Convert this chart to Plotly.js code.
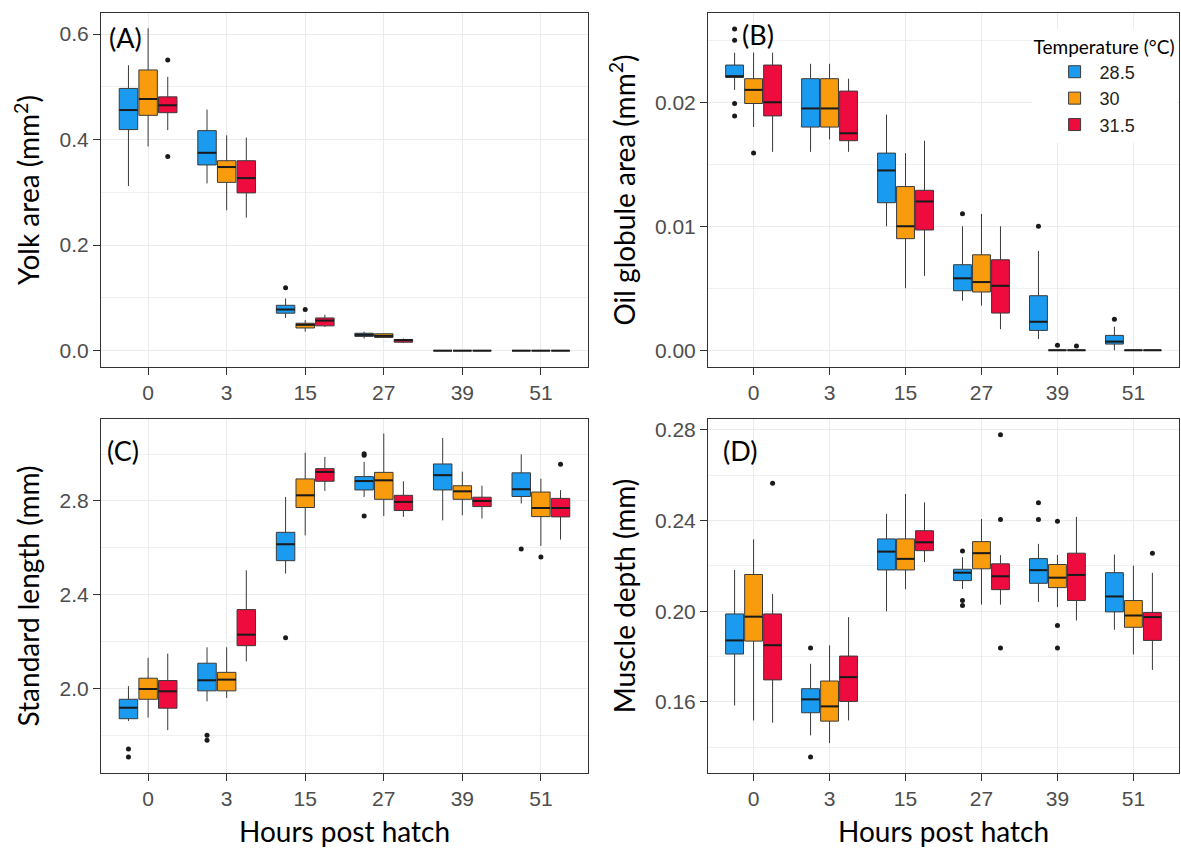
<!DOCTYPE html>
<html>
<head>
<meta charset="utf-8">
<script src="https://cdn.plot.ly/plotly-3.0.1.min.js"></script>
<style>html,body{margin:0;padding:0;background:#fff;}#chart{width:1181px;height:848px;}</style>
</head>
<body>
<div id="chart"></div>
<script>
// ---------- DATA ----------
const hours = ['0', '3', '15', '27', '39', '51'];
const temps = ['28.5', '30', '31.5'];

// (A) Yolk area (mm2) — rows: 28.5, 30, 31.5 °C ; columns: hours
const yolkLo  = [[0.312, 0.317, 0.062, 0.023, 0, 0], [0.387, 0.266, 0.036, 0.024, 0, 0], [0.418, 0.252, 0.045, 0.015, 0, 0]];
const yolkQ1  = [[0.419, 0.352, 0.071, 0.027, 0, 0], [0.446, 0.319, 0.043, 0.025, 0, 0], [0.451, 0.299, 0.047, 0.016, 0, 0]];
const yolkMed = [[0.456, 0.375, 0.078, 0.030, 0, 0], [0.477, 0.348, 0.049, 0.028, 0, 0], [0.465, 0.327, 0.057, 0.020, 0, 0]];
const yolkQ3  = [[0.497, 0.417, 0.086, 0.033, 0, 0], [0.532, 0.360, 0.052, 0.032, 0, 0], [0.481, 0.360, 0.062, 0.021, 0, 0]];
const yolkHi  = [[0.541, 0.457, 0.099, 0.036, 0, 0], [0.611, 0.408, 0.058, 0.033, 0, 0], [0.519, 0.404, 0.068, 0.023, 0, 0]];
const yolkOutHour = [0, 0, 2, 2];
const yolkOutTemp = [2, 2, 0, 1];
const yolkOutVal  = [0.551, 0.368, 0.119, 0.078];

// (B) Oil globule area (mm2)
const oilLo  = [[0.0210, 0.0160, 0.0100, 0.0040, 0.0009, 0], [0.0180, 0.0170, 0.0050, 0.0036, 0, 0], [0.0160, 0.0160, 0.0060, 0.0017, 0, 0]];
const oilQ1  = [[0.0220, 0.0180, 0.0119, 0.0048, 0.0016, 0.0005], [0.0199, 0.0180, 0.0090, 0.0047, 0, 0], [0.0189, 0.0169, 0.0097, 0.0030, 0, 0]];
const oilMed = [[0.0221, 0.0195, 0.0145, 0.0058, 0.0023, 0.0007], [0.0210, 0.0195, 0.0100, 0.0055, 0, 0], [0.0200, 0.0175, 0.0120, 0.0052, 0, 0]];
const oilQ3  = [[0.0230, 0.0219, 0.0159, 0.0069, 0.0044, 0.0012], [0.0219, 0.0219, 0.0132, 0.0077, 0, 0], [0.0230, 0.0209, 0.0129, 0.0073, 0, 0]];
const oilHi  = [[0.0240, 0.0231, 0.0190, 0.0100, 0.0080, 0.0019], [0.0240, 0.0231, 0.0159, 0.0110, 0, 0], [0.0240, 0.0219, 0.0169, 0.0100, 0, 0]];
const oilOutHour = [0, 0, 0, 0, 0, 3, 4, 4, 4, 5];
const oilOutTemp = [0, 0, 0, 0, 1, 0, 0, 1, 2, 0];
const oilOutVal  = [0.0259, 0.0250, 0.0199, 0.0189, 0.0159, 0.0110, 0.0100, 0.0004, 0.00035, 0.0025];

// (C) Standard length (mm)
const slLo  = [[1.860, 1.944, 2.490, 2.817, 2.717, 2.789], [1.875, 1.959, 2.653, 2.736, 2.739, 2.608], [1.821, 2.115, 2.843, 2.732, 2.725, 2.635]];
const slQ1  = [[1.870, 1.989, 2.545, 2.847, 2.847, 2.819], [1.953, 1.989, 2.772, 2.807, 2.807, 2.733], [1.915, 2.182, 2.884, 2.759, 2.776, 2.732]];
const slMed = [[1.917, 2.034, 2.615, 2.885, 2.910, 2.850], [1.997, 2.037, 2.824, 2.888, 2.841, 2.770], [1.987, 2.229, 2.924, 2.796, 2.800, 2.770]];
const slQ3  = [[1.953, 2.107, 2.666, 2.904, 2.958, 2.920], [2.043, 2.068, 2.894, 2.922, 2.865, 2.838], [2.033, 2.336, 2.938, 2.824, 2.816, 2.811]];
const slHi  = [[2.009, 2.175, 2.817, 2.967, 3.069, 2.999], [2.130, 2.175, 3.006, 3.088, 2.925, 2.895], [2.148, 2.504, 2.988, 2.884, 2.865, 2.846]];
const slOutHour = [0, 0, 1, 1, 2, 3, 3, 3, 5, 5, 5];
const slOutTemp = [0, 0, 0, 0, 0, 0, 0, 0, 0, 1, 2];
const slOutVal  = [1.741, 1.707, 1.799, 1.778, 2.216, 3.002, 2.995, 2.736, 2.595, 2.561, 2.957];

// (D) Muscle depth (mm)
const mdLo  = [[0.1584, 0.1452, 0.2000, 0.2098, 0.2041, 0.1918], [0.1518, 0.1418, 0.2097, 0.2029, 0.2018, 0.1809], [0.1508, 0.1518, 0.2217, 0.2029, 0.1959, 0.1741]];
const mdQ1  = [[0.1811, 0.1552, 0.2182, 0.2135, 0.2123, 0.1997], [0.1868, 0.1515, 0.2182, 0.2187, 0.2104, 0.1929], [0.1697, 0.1602, 0.2267, 0.2095, 0.2047, 0.1871]];
const mdMed = [[0.1871, 0.1611, 0.2263, 0.2170, 0.2181, 0.2065], [0.1976, 0.1580, 0.2231, 0.2256, 0.2148, 0.1981], [0.1850, 0.1709, 0.2304, 0.2154, 0.2160, 0.1974]];
const mdQ3  = [[0.1988, 0.1658, 0.2319, 0.2185, 0.2232, 0.2170], [0.2162, 0.1692, 0.2319, 0.2307, 0.2206, 0.2047], [0.1988, 0.1802, 0.2355, 0.2209, 0.2256, 0.1994]];
const mdHi  = [[0.2182, 0.1768, 0.2429, 0.2238, 0.2297, 0.2250], [0.2317, 0.1849, 0.2517, 0.2407, 0.2248, 0.2201], [0.2076, 0.1974, 0.2480, 0.2247, 0.2416, 0.2169]];
const mdOutHour = [0, 1, 1, 3, 3, 3, 3, 3, 3, 4, 4, 4, 4, 4, 5];
const mdOutTemp = [2, 0, 0, 0, 0, 0, 2, 2, 2, 0, 0, 1, 1, 1, 2];
const mdOutVal  = [0.2564, 0.1838, 0.1357, 0.2266, 0.2047, 0.2025, 0.2779, 0.2405, 0.1838, 0.2479, 0.2405, 0.2397, 0.1937, 0.1838, 0.2256];

// ---------- STYLE ----------
const COLORS = ['#1A9BF0', '#F89C0E', '#EE0B3D'];
const OFF = [-0.25, 0, 0.25];
const BW = 0.235;
const TICKFONT = {family: 'Liberation Sans, Arial, sans-serif', size: 21, color: '#4d4d4d'};
const TITLEFONT = {family: 'Lato, sans-serif', size: 28, color: '#000'};

const traces = [];
function panel(n, lo, q1, med, q3, hi, oHour, oTemp, oVal, showLegend) {
  const xa = n === 1 ? 'x' : 'x' + n;
  const ya = n === 1 ? 'y' : 'y' + n;
  temps.forEach((t, k) => {
    traces.push({
      type: 'box', name: t, legendgroup: t, showlegend: showLegend,
      xaxis: xa, yaxis: ya,
      x: hours.map((h, i) => i + OFF[k]),
      q1: q1[k], median: med[k], q3: q3[k], lowerfence: lo[k], upperfence: hi[k],
      width: BW, fillcolor: COLORS[k], line: {color: '#3a3a3a', width: 1},
      whiskerwidth: 0, boxpoints: false, hoverinfo: 'y'
    });
  });
  const mx = [], my = [];
  temps.forEach((t, k) => hours.forEach((h, i) => {
    mx.push(i + OFF[k] - BW / 2, i + OFF[k] + BW / 2, null);
    my.push(med[k][i], med[k][i], null);
  }));
  traces.push({type: 'scatter', mode: 'lines', x: mx, y: my, xaxis: xa, yaxis: ya,
    line: {color: '#1a1a1a', width: 2}, showlegend: false, hoverinfo: 'skip'});
  traces.push({type: 'scatter', mode: 'markers', xaxis: xa, yaxis: ya,
    x: oHour.map((c, j) => c + OFF[oTemp[j]]), y: oVal,
    marker: {color: '#1a1a1a', size: 5}, showlegend: false, hoverinfo: 'y'});
}
panel(1, yolkLo, yolkQ1, yolkMed, yolkQ3, yolkHi, yolkOutHour, yolkOutTemp, yolkOutVal, false);
panel(2, oilLo, oilQ1, oilMed, oilQ3, oilHi, oilOutHour, oilOutTemp, oilOutVal, true);
panel(3, slLo, slQ1, slMed, slQ3, slHi, slOutHour, slOutTemp, slOutVal, false);
panel(4, mdLo, mdQ1, mdMed, mdQ3, mdHi, mdOutHour, mdOutTemp, mdOutVal, false);

function xAxis(domain, anchor, withTitle) {
  const a = {
    domain: domain, anchor: anchor, range: [-0.6, 5.6],
    tickmode: 'array', tickvals: hours.map((h, i) => i), ticktext: hours,
    showgrid: true, gridcolor: '#ebebeb', gridwidth: 1, zeroline: false,
    showline: true, mirror: true, linecolor: '#333', linewidth: 1,
    ticks: 'outside', ticklen: 7, tickcolor: '#333', tickfont: TICKFONT
  };
  if (withTitle) a.title = {text: 'Hours post hatch', font: TITLEFONT, standoff: 14};
  return a;
}
function yAxis(domain, anchor, range, tick0, dtick, fmt, title) {
  return {
    domain: domain, anchor: anchor, range: range,
    tick0: tick0, dtick: dtick, tickformat: fmt,
    showgrid: true, gridcolor: '#ebebeb', gridwidth: 1, zeroline: false,
    minor: {tick0: tick0, dtick: dtick / 2, showgrid: true, gridcolor: '#f0f0f0', gridwidth: 1, ticks: ''},
    showline: true, mirror: true, linecolor: '#333', linewidth: 1,
    ticks: 'outside', ticklen: 7, tickcolor: '#333', tickfont: TICKFONT,
    title: {text: title, font: TITLEFONT, standoff: 11}
  };
}
const XL = [0.0855, 0.4979], XR = [0.5995, 0.9983];
const YT = [0.5672, 0.9847], YB = [0.0884, 0.5059];

function panelLabel(n, text, x, y) {
  return {xref: (n === 1 ? 'x' : 'x' + n) + ' domain', yref: (n === 1 ? 'y' : 'y' + n) + ' domain',
    x: x, y: y, xanchor: 'left', yanchor: 'middle', text: text, showarrow: false,
    font: {family: 'Lato, sans-serif', size: 27, color: '#000'}};
}

const layout = {
  width: 1181, height: 848, margin: {l: 0, r: 0, t: 0, b: 0},
  paper_bgcolor: '#fff', plot_bgcolor: '#fff', boxmode: 'overlay',
  showlegend: true,
  legend: {
    x: 0.8735, y: 0.966, xanchor: 'left', yanchor: 'top', bgcolor: '#fff',
    title: {text: 'Temperature (°C)', font: {family: 'Lato, sans-serif', size: 19, color: '#000'}},
    font: {family: 'Liberation Sans, Arial, sans-serif', size: 18, color: '#222'},
    itemwidth: 40, indentation: 18, tracegroupgap: 0
  },
  xaxis: xAxis(XL, 'y', false),
  yaxis: yAxis(YT, 'x', [-0.031, 0.640], 0, 0.2, '.1f', 'Yolk area (mm<sup>2</sup>)'),
  xaxis2: xAxis(XR, 'y2', false),
  yaxis2: yAxis(YT, 'x2', [-0.00135, 0.0272], 0, 0.01, '.2f', 'Oil globule area (mm<sup>2</sup>)'),
  xaxis3: xAxis(XL, 'y3', true),
  yaxis3: yAxis(YB, 'x3', [1.638, 3.15], 2.0, 0.4, '.1f', 'Standard length (mm)'),
  xaxis4: xAxis(XR, 'y4', true),
  yaxis4: yAxis(YB, 'x4', [0.1286, 0.2848], 0.16, 0.04, '.2f', 'Muscle depth (mm)'),
  annotations: [
    panelLabel(1, '(A)', 0.012, 0.932),
    panelLabel(2, '(B)', 0.068, 0.938),
    panelLabel(3, '(C)', 0.008, 0.912),
    panelLabel(4, '(D)', 0.028, 0.912)
  ]
};

Plotly.newPlot('chart', traces, layout, {staticPlot: true, displayModeBar: false});
</script>
</body>
</html>
